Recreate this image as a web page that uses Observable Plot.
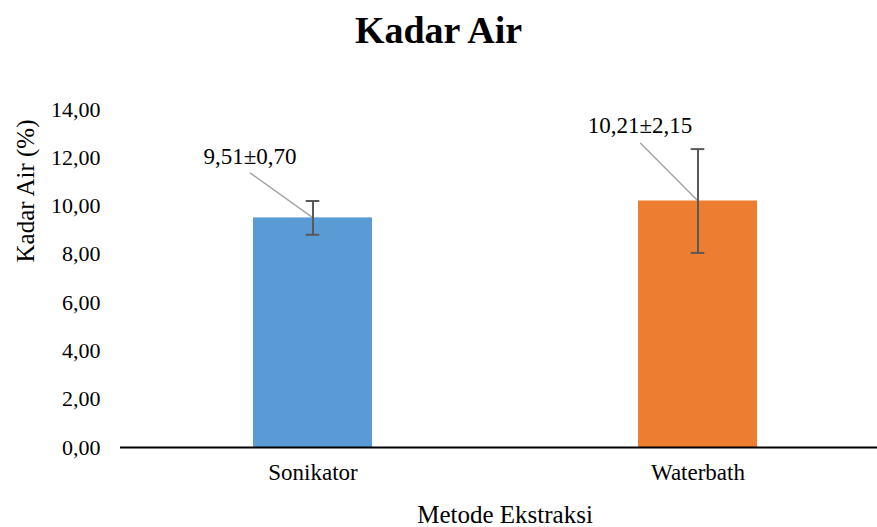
<!DOCTYPE html>
<html>
<head>
<meta charset="utf-8">
<script src="https://cdn.jsdelivr.net/npm/d3@7"></script>
<script src="https://cdn.jsdelivr.net/npm/@observablehq/plot@0.6"></script>
<style>
  html, body { margin: 0; padding: 0; background: #fff; }
  #title { height: 80px; line-height: 60px; text-align: center; font-family: "Liberation Serif", Tinos, "Times New Roman", Times, "DejaVu Serif", serif; font-weight: bold; font-size: 38px; color: #000; width: 877px; }
  #chart svg { display: block; }
</style>
</head>
<body>
<div id="title">Kadar Air</div>
<div id="chart"></div>
<script>
const categories = ["Sonikator", "Waterbath"];
const means = [9.51, 10.21];
const sds = [0.70, 2.15];
const barColors = ["#5B9BD5", "#ED7D31"];
const valueLabels = ["9,51±0,70", "10,21±2,15"];
const labelY = [12.03, 13.34];
const labelDx = [-63, -58];
const leaderLength = [77, 81.5];
const leaderAngle = [-54.4, -44.8];
const yTicks = [0, 2, 4, 6, 8, 10, 12, 14];

const rows = categories.map((c, i) => ({
  cat: c, mean: means[i], sd: sds[i], color: barColors[i], label: valueLabels[i],
  ly: labelY[i], ldx: labelDx[i], len: leaderLength[i], ang: leaderAngle[i],
  lo: means[i] - sds[i], hi: means[i] + sds[i]
}));

const fmt = d => d.toFixed(2).replace(".", ",");
const font = '"Liberation Serif", Tinos, "Times New Roman", Times, "DejaVu Serif", serif';

const plot = Plot.plot({
  width: 877,
  height: 447,
  marginTop: 29,
  marginBottom: 80,
  marginLeft: 120,
  marginRight: 0,
  style: { fontFamily: font, fontSize: "23px", color: "#000", background: "#fff" },
  x: { domain: categories, range: [120, 890], paddingInner: 0.69, paddingOuter: 0.345 },
  y: { domain: [0, 14] },
  marks: [
    Plot.barY(rows, { x: "cat", y: "mean", fill: d => d.color }),
    Plot.ruleY([0], { stroke: "#000", strokeWidth: 2 }),
    Plot.axisY({ ticks: yTicks, tickFormat: fmt, tickSize: 0, tickPadding: 20, label: null, fontSize: 22, fontFamily: font }),
    Plot.axisX({ tickSize: 0, tickPadding: 16, label: null, fontSize: 23, fontFamily: font }),
    Plot.text(["Kadar Air (%)"], { frameAnchor: "left", rotate: -90, dx: -95, dy: -16, fontSize: 25, fontFamily: font }),
    Plot.text(["Metode Ekstraksi"], { frameAnchor: "bottom", lineAnchor: "bottom", dx: 6, dy: 75, fontSize: 25, fontFamily: font }),
    ...rows.map(r => Plot.vector([r], { x: "cat", y: "mean", length: r.len, rotate: r.ang, anchor: "start", shape: "spike", r: 0, stroke: "#A5A5A5", strokeWidth: 1.5, fill: "none" })),
    Plot.ruleX(rows, { x: "cat", y1: "lo", y2: "hi", stroke: "#595959", strokeWidth: 2 }),
    Plot.tickY(rows, { x: "cat", y: "lo", stroke: "#595959", strokeWidth: 2, insetLeft: 52.7, insetRight: 52.7 }),
    Plot.tickY(rows, { x: "cat", y: "hi", stroke: "#595959", strokeWidth: 2, insetLeft: 52.7, insetRight: 52.7 }),
    ...rows.map(r => Plot.text([r], { x: "cat", y: "ly", text: "label", dx: r.ldx, fontSize: 23, fontFamily: font }))
  ]
});
document.getElementById("chart").appendChild(plot);
</script>
</body>
</html>
